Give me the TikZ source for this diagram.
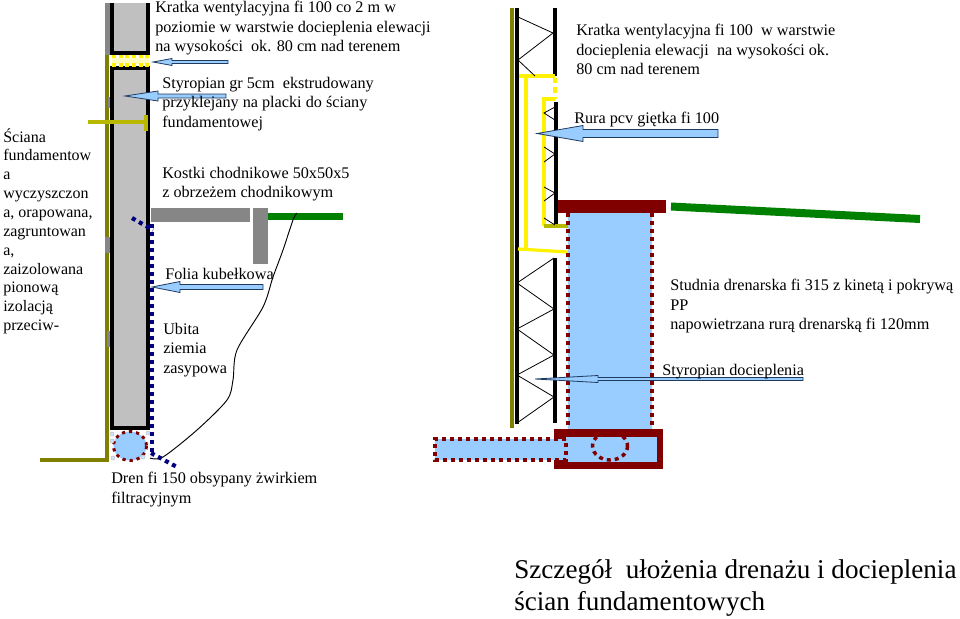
\documentclass[tikz,border=0pt]{standalone}
\usepackage{fontspec}
\setmainfont{Liberation Serif}
\usetikzlibrary{calc}
\definecolor{oliwka}{HTML}{808000}
\definecolor{kotwa}{HTML}{B8B800}
\definecolor{sciana}{HTML}{C0C0C0}
\definecolor{szary}{HTML}{868686}
\definecolor{zielen}{HTML}{008000}
\definecolor{woda}{HTML}{99CCFF}
\definecolor{bordo}{HTML}{800000}
\definecolor{granat}{HTML}{000080}
\definecolor{kontur}{HTML}{1F3A5F}
\tikzset{
	opis/.style={anchor=north west,inner sep=0pt,align=left,font=\fontsize{12.15}{14.6}\selectfont},
	opiswaski/.style={opis,font=\fontsize{12}{14.15}\selectfont},
	tytul/.style={anchor=north west,inner sep=0pt,align=left,font=\fontsize{20.35}{24}\selectfont},
	kropki/.style={line width=2.6pt,color=bordo,dash pattern=on 3pt off 3pt},
	folia/.style={line width=3.1pt,color=granat,dash pattern=on 3pt off 3pt},
	siatka/.style={line width=0.6pt,color=black},
	ocieplenie/.style={line width=2.4pt,color=yellow}
}
% strzalka: grot (x,y), koniec grota, koniec trzonu, pol trzonu, pol grota
\def\strzalka(#1,#2)(#3:#4:#5:#6){\draw[color=kontur,fill=woda,line width=0.6pt] (#1,#2) -- (#3,#2-#6) -- (#3,#2-#5) -- (#4,#2-#5) -- (#4,#2+#5) -- (#3,#2+#5) -- (#3,#2+#6) -- cycle;}

\begin{document}
\begin{tikzpicture}[x=0.75pt,y=-0.75pt]
	\useasboundingbox (0,0) rectangle (960,618);
	
	%%%%% LEWY DETAL %%%%%
	
	\draw[oliwka,line width=2.8pt] (107,55) -- (107,460) -- (40,460);
	\fill[szary] (105,3) rectangle (110,55);
	\fill[szary] (108,97) rectangle (111,108);
	\fill[szary] (105,237) rectangle (112,253);
	\fill[szary] (107,331) rectangle (112,347);
	
	\fill[sciana] (112,3) rectangle (148,53);
	\draw[line width=3pt] (112,3) -- (112,53) -- (148,53) -- (148,3);
	\fill[sciana] (112,68) rectangle (148,428);
	\draw[line width=3pt] (112,68) rectangle (148,428);
	\fill[yellow!25] (112,58) rectangle (149,64);
	\draw[yellow,line width=2.4pt,dash pattern=on 3pt off 2pt] (112,56.5) -- (149,56.5);
	\draw[yellow,line width=2.4pt,dash pattern=on 3pt off 2pt] (112,65) -- (149,65);
	
	\draw[kotwa,line width=3pt] (88,122) -- (146,122);
	\draw[kotwa,line width=3pt] (146,115) -- (146,131);
	
	\fill[szary] (151,208) rectangle (250,222);
	\fill[szary] (253,208) rectangle (268,264);
	\fill[zielen] (268,213) rectangle (343,220);
	
	\draw[line width=0.7pt] plot[smooth] coordinates {(297,213) (293,220) (283,250) (273,277) (263,307) (237,350) (233,380) (227,400) (197,430) (163,457) (150,458)};
	
	\fill[woda] (130,446) ellipse (16.5 and 14.5);
	\draw[kropki,line width=2.2pt,dash pattern=on 2.4pt off 3pt] (130,446) ellipse (16.5 and 14.5);
	\foreach \x/\y in {112/434,148/433,113/458,143/457,112/441}
		\draw[color=sciana,fill=woda!50,line width=0.4pt] (\x,\y) circle (2);
	
	\draw[folia] (152,224) -- (152,456);
	\draw[folia] (132,218) -- (153,230);
	\draw[folia] (151,453) -- (177,467);
	
	\strzalka(153,62)(172:228:1.5:3.5)
	\strzalka(125,96)(158:226:2:5)
	\strzalka(152,287)(180:263:2.5:5.5)
	
	%%%%% PRAWY DETAL %%%%%
	
	\draw[oliwka,line width=3pt] (512,8) -- (512,428);
	\draw[line width=3pt] (516.5,8) -- (516.5,424);
	\draw[line width=3pt] (555,8) -- (555,76);
	\draw[line width=3pt] (556,102) -- (556,226);
	\draw[line width=3pt] (555,258) -- (555,423);
	
	\draw[ocieplenie] (519,76) -- (555,76);
	\draw[ocieplenie] (526,76) -- (526,249);
	\draw[ocieplenie] (518,249) -- (568,252);
	\draw[ocieplenie,dash pattern=on 4pt off 3pt] (555,78) -- (555,99);
	\draw[ocieplenie] (555,99) -- (544,99) -- (544,226);
	\draw[kotwa,line width=2.4pt] (544,226) -- (570,226);
	
	\draw[siatka] (518,17) -- (553,33) -- (518,60) -- (535,76);
	\draw[siatka] (555,107) -- (544,113) -- (555,120);
	\draw[siatka] (544,147) -- (555,154) -- (544,162);
	\draw[siatka] (544,187) -- (555,193) -- (544,201);
	\draw[siatka] (544,218) -- (555,225);
	\draw[siatka] (554,258) -- (517,283) -- (554,309) -- (517,329) -- (554,355) -- (517,375) -- (554,397) -- (517,423);
	
	\fill[woda] (568,213) rectangle (652,432);
	\draw[kropki] (568,213) -- (568,432);
	\draw[kropki] (652,213) -- (652,432);
	\fill[bordo] (558,200) rectangle (666,213);
	\draw[zielen,line width=6pt] (671,206.5) -- (920,219);
	
	\fill[bordo] (554,429) rectangle (663,469);
	\fill[woda] (565,437) rectangle (657,462);
	\fill[woda] (435,439) rectangle (566,460);
	\draw[kropki] (566,439) -- (435,439) -- (435,460) -- (566,460) -- cycle;
	\draw[kropki] (568,433) -- (652,433);
	\draw[kropki] (610,446) ellipse (17.5 and 14);
	
	\strzalka(537,133.5)(583:718:4:8)
	\strzalka(535,379)(598:803:1.5:3.5)
	
	%%%%% OPISY %%%%%
	
	\node[opiswaski] (sciana) at (3,128) {Ściana\\fundamentow\\a\\wyczyszczon\\a, orapowana,\\zagruntowan\\a,\\zaizolowana\\pionową\\izolacją\\przeciw-};
	\node[opis] (kratka) at (155,1) {Kratka wentylacyjna fi 100 co 2 m w\\poziomie w warstwie docieplenia elewacji\\na wysokości\ \ ok. 80 cm nad terenem};
	\node[opis] (styropian) at (162,77) {Styropian gr 5cm\ \ ekstrudowany\\przyklejany na placki do ściany\\fundamentowej};
	\node[opis] (kostki) at (162,167) {Kostki chodnikowe 50x50x5\\z obrzeżem chodnikowym};
	\node[opis] (kubelkowa) at (165,268) {Folia kubełkowa};
	\node[opis] (ubita) at (163,323) {Ubita\\ziemia\\zasypowa};
	\node[opis] (dren) at (111,472) {Dren fi 150 obsypany żwirkiem\\filtracyjnym};
	\node[opis] (kratka2) at (576,24) {Kratka wentylacyjna fi 100\ \ w warstwie\\docieplenia elewacji\ \ na wysokości ok.\\80 cm nad terenem};
	\node[opis] (rura) at (574,112) {Rura pcv giętka fi 100};
	\node[opis] (studnia) at (670,279) {Studnia drenarska fi 315 z kinetą i pokrywą\\PP\\napowietrzana rurą drenarską fi 120mm};
	\node[opis] (docieplenie) at (662,364) {Styropian docieplenia};
	\node[tytul] (tytul) at (514,559) {Szczegół\ \ ułożenia drenażu i docieplenia\\ścian fundamentowych};
	
\end{tikzpicture}
\end{document}
